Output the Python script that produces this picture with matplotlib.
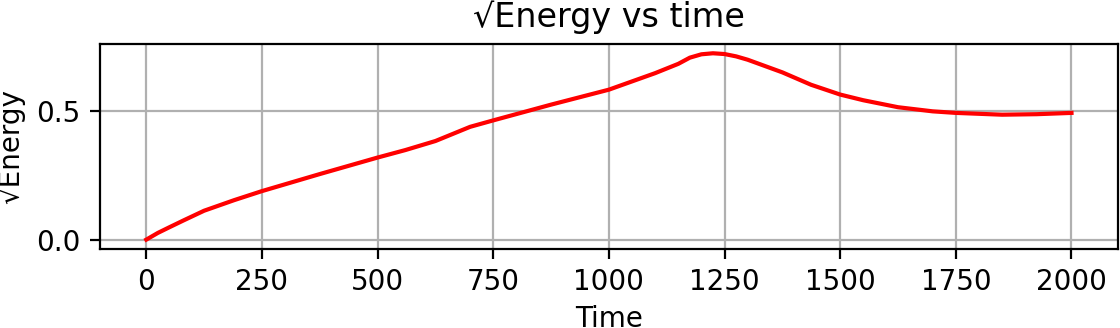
import matplotlib
matplotlib.use("Agg")
import matplotlib.pyplot as plt

# values
time = [0, 25, 50, 80, 125, 190, 250, 375, 500, 560, 625, 700, 750, 875,
        1000, 1050, 1100, 1150, 1175, 1200, 1225, 1250, 1275, 1300, 1375,
        1437, 1500, 1550, 1625, 1700, 1750, 1850, 1925, 2000]
sqrt_energy = [0.0, 0.026, 0.048, 0.074, 0.112, 0.153, 0.188, 0.254, 0.318,
               0.347, 0.382, 0.437, 0.462, 0.523, 0.581, 0.613, 0.645, 0.681,
               0.705, 0.718, 0.722, 0.719, 0.710, 0.697, 0.648, 0.600, 0.562,
               0.540, 0.513, 0.497, 0.491, 0.484, 0.486, 0.491]
y_ticks = [0.0, 0.5]

# reference looks like a small default figure rendered at high dpi
fig, ax = plt.subplots(figsize=(5.6, 1.64), dpi=200)
fig.subplots_adjust(left=0.0893, right=0.998, top=0.866, bottom=0.241)

ax.plot(time, sqrt_energy, color="red", linewidth=1.5)
ax.set_yticks(y_ticks)
ax.set_title("√Energy vs time")
ax.set_xlabel("Time", labelpad=3)
ax.set_ylabel("√Energy")
ax.grid(True)

fig.savefig("out.png", dpi=200)
